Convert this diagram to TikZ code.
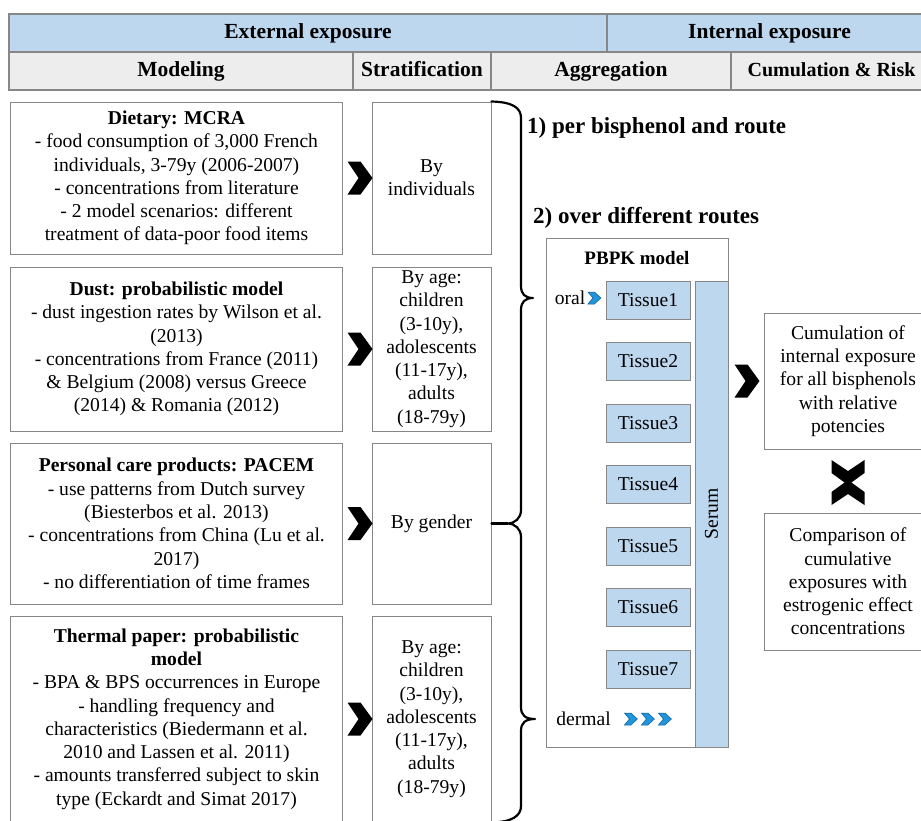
\documentclass[tikz,border=0pt]{standalone}
\usepackage{fontspec}
\setmainfont{Liberation Serif}
\definecolor{hdrblue}{RGB}{189,215,238}
\definecolor{hdrgray}{RGB}{237,237,237}
\definecolor{boxgray}{RGB}{135,135,135}
\definecolor{chevblue}{RGB}{30,150,220}
\definecolor{chevedge}{RGB}{20,90,150}

\begin{document}
\begin{tikzpicture}[x=1pt,y=-1pt]

    \tikzset{
      header/.style={
        draw=boxgray,
        line width=1.2pt,
        inner sep=0pt,
        minimum height=38,
        text height=14.5pt,
        text depth=4.5pt,
        font=\fontsize{21.5}{25}\selectfont\bfseries,
      },
      box/.style={
        draw=boxgray,
        line width=1pt,
        fill=white,
        inner sep=0pt,
        align=center,
        font=\fontsize{19.6}{23.3}\selectfont,
      },
      tissue/.style={box, fill=hdrblue, minimum width=84, minimum height=38},
      routelabel/.style={anchor=west, inner sep=0pt, font=\fontsize{23}{27}\selectfont\bfseries},
      brace/.style={line width=2.2pt, line cap=round, line join=round},
      chevron/.pic={
        \fill[black] (-12.5,-16.5) -- (0.5,-16.5) -- (12.5,0) -- (0.5,16.5) -- (-12.5,16.5) -- (-1.5,0) -- cycle;
      },
      minichevron/.pic={
        \filldraw[fill=chevblue, draw=chevedge, line width=0.5pt] (-6.5,-6) -- (0,-6) -- (6.5,0) -- (0,6) -- (-6.5,6) -- (-1.5,0) -- cycle;
      },
    }
    \useasboundingbox (0,0) rectangle (921,820);
    \clip (0,0) rectangle (921,820);

    % header rows
    \node[header, fill=hdrblue, minimum width=598] (ext) at (308,33) {External exposure};
    \node[header, fill=hdrblue, minimum width=325] (int) at (769.5,33) {Internal exposure};
    \node[header, fill=hdrgray, minimum width=344] (modeling) at (181,71) {Modeling};
    \node[header, fill=hdrgray, minimum width=138] (strat) at (422,71) {Stratification};
    \node[header, fill=hdrgray, minimum width=240] (aggr) at (611,71) {Aggregation};
    \node[header, fill=hdrgray, minimum width=201, font=\fontsize{20}{24}\selectfont\bfseries] (cumrisk) at (831.5,71) {Cumulation \& Risk};

    % modeling
    \node[box, minimum width=332, minimum height=152] (dietary) at (176.5,178) {\textbf{Dietary: MCRA}\\- food consumption of 3,000 French\\individuals, 3-79y (2006-2007)\\- concentrations from literature\\- 2 model scenarios: different\\treatment of data-poor food items};
    \node[box, minimum width=332, minimum height=164] (dust) at (176.5,349) {\textbf{Dust: probabilistic model}\\- dust ingestion rates by Wilson et al.\\(2013)\\- concentrations from France (2011)\\\& Belgium (2008) versus Greece\\(2014) \& Romania (2012)};
    \node[box, minimum width=332, minimum height=161] (care) at (176.5,523.5) {\textbf{Personal care products: PACEM}\\- use patterns from Dutch survey\\(Biesterbos et al. 2013)\\- concentrations from China (Lu et al.\\2017)\\- no differentiation of time frames};
    \node[box, minimum width=332, minimum height=206] (paper) at (176.5,719) {\textbf{Thermal paper: probabilistic}\\\textbf{model}\\- BPA \& BPS occurrences in Europe\\- handling frequency and\\characteristics (Biedermann et al.\\2010 and Lassen et al. 2011)\\- amounts transferred subject to skin\\type (Eckardt and Simat 2017)};

    % stratification
    \node[box, minimum width=119, minimum height=152] (indiv) at (431.5,178) {By\\individuals};
    \node[box, minimum width=119, minimum height=164] (agedust) at (431.5,349) {By age:\\children\\(3-10y),\\adolescents\\(11-17y),\\adults\\(18-79y)};
    \node[box, minimum width=119, minimum height=161] (gender) at (431.5,523.5) {By gender};
    \node[box, minimum width=119, minimum height=206] (agepaper) at (431.5,719) {By age:\\children\\(3-10y),\\adolescents\\(11-17y),\\adults\\(18-79y)};

    \foreach \src in {dietary,dust,care,paper}
      \pic at ([xshift=17]\src.east) {chevron};

    % aggregation
    \node[routelabel] (route1) at (527,128) {1) per bisphenol and route};
    \node[routelabel] (route2) at (533,218) {2) over different routes};

    \node[box, minimum width=182, minimum height=509] (pbpk) at (637,492.5) {};
    \node[font=\fontsize{19}{22}\selectfont\bfseries] (pbpktitle) at (637,258) {PBPK model};
    \node[box, fill=hdrblue, minimum width=33, minimum height=466] (serum) at (711.5,514) {};
    \node[rotate=90, font=\fontsize{19.6}{23.3}\selectfont] (serumlabel) at (serum.center) {Serum};
    \foreach \i in {1,...,7}
      \node[tissue] (tissue\i) at (648,238.5+61.5*\i) {Tissue\i};

    \node[inner sep=0pt, font=\fontsize{19.6}{23.3}\selectfont] (oral) at (570,298) {oral};
    \pic at ([xshift=9]oral.east) {minichevron};
    \node[inner sep=0pt, font=\fontsize{19.6}{23.3}\selectfont] (dermal) at (583.5,719) {dermal};
    \foreach \k in {1,2,3}
      \pic at ([xshift=3+17*\k]dermal.east) {minichevron};

    % braces
    \coordinate (btop) at (indiv.north east);
    \coordinate (bjoin) at ([xshift=16]gender.east);
    \coordinate (oraltip) at (533,298);
    \coordinate (dermaltip) at (535,719);
    \coordinate (bbot) at (agepaper.south east);
    \draw[brace] (btop) .. controls (513,102) and (521,108) .. (521,118)
      -- (521,286) .. controls (521,294) and (525,298) .. (oraltip)
      .. controls (525,298) and (521,302) .. (521,310)
      -- (521,510) .. controls (521,518) and (515,523.5) .. (bjoin)
      .. controls (515,523.5) and (521,529) .. (521,537)
      -- (521,707) .. controls (521,715) and (525,719) .. (dermaltip)
      .. controls (525,719) and (521,723) .. (521,731)
      -- (521,806) .. controls (521,816) and (512,822) .. (bbot);
    \draw[brace] (gender.east) -- (bjoin);

    % cumulation and risk
    \node[box, minimum width=168, minimum height=136] (cumul) at (848,381) {Cumulation of\\internal exposure\\for all bisphenols\\with relative\\potencies};
    \node[box, minimum width=168, minimum height=137] (compar) at (848,581.5) {Comparison of\\cumulative\\exposures with\\estrogenic effect\\concentrations};
    \pic at ([xshift=-16.5]cumul.west) {chevron};
    \pic[rotate=-90] at ([yshift=-23]cumul.south) {chevron};
    \pic[rotate=90] at ([yshift=20]compar.north) {chevron};

\end{tikzpicture}
\end{document}
